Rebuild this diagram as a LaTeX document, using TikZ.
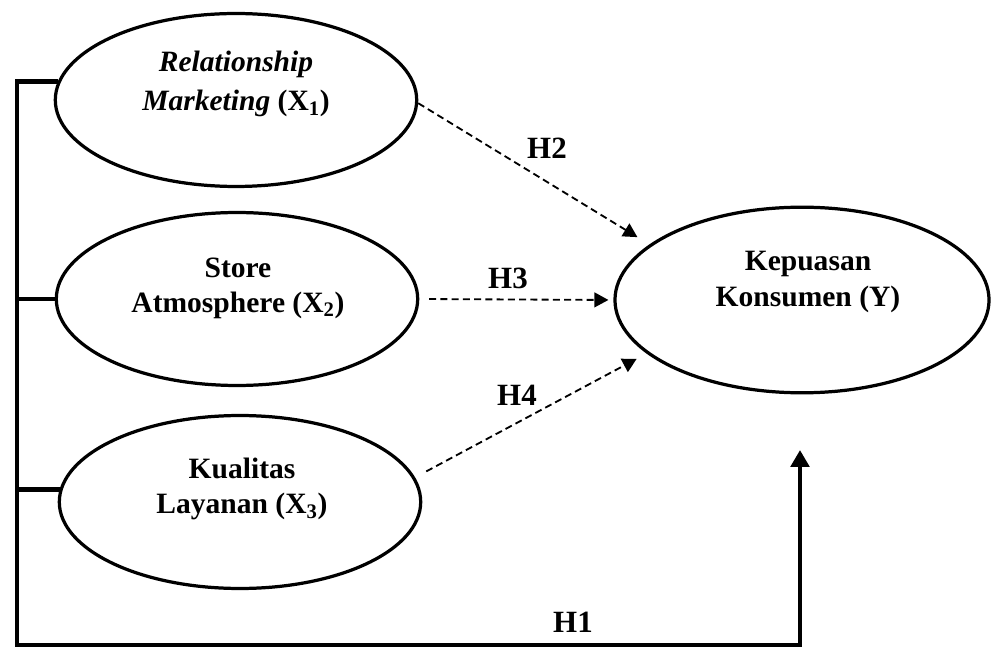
\documentclass[tikz,border=0pt]{standalone}
\usepackage{fontspec}
\setmainfont{Liberation Serif}
\usetikzlibrary{arrows.meta,shapes.geometric}
\tikzstyle{latent}=[ellipse,draw,line width=2.3pt,inner sep=0pt,minimum width=257pt,minimum height=123pt]
\tikzstyle{outcome}=[latent,minimum width=266pt,minimum height=132pt]
\tikzstyle{vartext}=[align=center,inner sep=0pt,font=\fontsize{21}{25}\selectfont\bfseries]
\tikzstyle{hyp}=[inner sep=0pt,font=\fontsize{22}{26}\selectfont\bfseries]
\tikzstyle{effect}=[-{Triangle[length=10pt,width=10.5pt]},line width=1.3pt,dash pattern=on 5pt off 3pt]
\tikzstyle{bracket}=[line width=3.2pt]
\tikzstyle{total effect}=[bracket,-{Triangle[length=12pt,width=13pt]}]
\begin{document}
\begin{tikzpicture}[x=0.025cm,y=-0.025cm]
\useasboundingbox (0,0) rectangle (992,648);

\node (x1) [latent] at (236,100) {} ;
\node (x2) [latent] at (237,299) {} ;
\node (x3) [latent] at (240,502) {} ;
\node (y) [outcome] at (802,300) {} ;

\node (x1-text) [vartext] at (236,84) {\itshape Relationship\\[3pt]{\itshape Marketing} (X\textsubscript{1})} ;
\node (x2-text) [vartext] at (238,288) {Store\\Atmosphere (X\textsubscript{2})} ;
\node (x3-text) [vartext] at (242,489) {Kualitas\\Layanan (X\textsubscript{3})} ;
\node (y-text) [vartext] at (808,282) {Kepuasan\\Konsumen (Y)} ;

\node (h2) [hyp] at (547,148) {H2} ;
\node (h3) [hyp] at (508,278) {H3} ;
\node (h4) [hyp] at (517,395) {H4} ;
\node (h1) [hyp] at (573,622) {H1} ;

\coordinate (bl) at (17,645) ;
\coordinate (br) at (800,645) ;
\coordinate (h1-tip) at (800,450) ;

\draw [effect,shorten >=10pt] (x1.-1) -- (y.160) ;
\draw [effect,shorten <=7pt,shorten >=3.5pt] (x2.east) -- (y.west) ;
\draw [effect,shorten <=9pt,shorten >=8pt] (x3.8) -- (y.199) ;

\draw [total effect] (x1.174) -- (x1.174 -| bl) -- (bl) -- (br) -- (h1-tip) ;
\draw [bracket] (x2.west) -- (x2.west -| bl) ;
\draw [bracket] (x3.176) -- (x3.176 -| bl) ;

\end{tikzpicture}
\end{document}
